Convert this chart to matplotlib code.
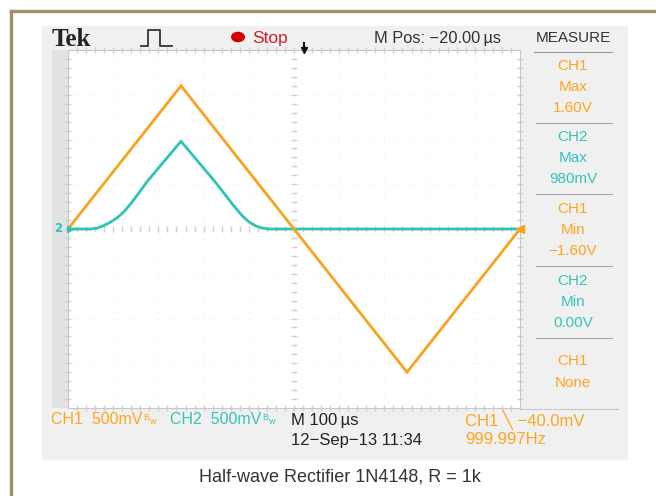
import matplotlib.pyplot as plt
from matplotlib.patches import Rectangle, Circle

# scope capture: 100 us/div, 500 mV/div on both channels
t_ch1 = [0, 250, 500, 750, 1000]          # us
v_ch1 = [0.0, 1.60, 0.0, -1.60, 0.0]      # V, triangle input

t_ch2 = [0, 50, 65, 80, 95, 110, 125, 140, 155, 175, 250,
         325, 345, 365, 385, 400, 415, 430, 445, 460, 1000]
v_ch2 = [0.0, 0.0, 0.01, 0.04, 0.08, 0.13, 0.2, 0.29, 0.39, 0.53, 0.98,
         0.53, 0.4, 0.27, 0.15, 0.08, 0.035, 0.01, 0.0, 0.0, 0.0]

measure = [("CH1", "Max", "1.60V", "orange"),
           ("CH2", "Max", "980mV", "cyan"),
           ("CH1", "Min", "\u22121.60V", "orange"),
           ("CH2", "Min", "0.00V", "cyan"),
           ("CH1", "None", "", "orange")]

ORANGE = "#F9A21E"
CYAN = "#2DC3B5"
TXT_OR = "#FFA51F"
TXT_CY = "#35C4BC"
W, H = 656, 496

fig = plt.figure(figsize=(6.56, 4.96), dpi=100)
fig.patch.set_facecolor("white")


def fx(x):
    return x / W


def fy(y):
    return 1 - y / H


def ftext(x, y, s, **kw):
    fig.text(fx(x), fy(y), s, **kw)


def frect(x0, y0, x1, y1, **kw):
    fig.patches.append(Rectangle((fx(x0), fy(y1)), fx(x1) - fx(x0), fy(y0) - fy(y1),
                                 transform=fig.transFigure, figure=fig, **kw))


# screen background and frame
frect(42, 26, 628, 460, facecolor="#F0F0F0", edgecolor="none", zorder=-2)
frect(52, 50, 68, 408, facecolor="#E2E2E2", edgecolor="none", zorder=-1)
fig.add_artist(plt.Line2D([fx(10.5), 1], [fy(11), fy(11)], color="#A38D6B", lw=2.4,
                          transform=fig.transFigure))
fig.add_artist(plt.Line2D([fx(10.5), fx(10.5)], [fy(11), 0], color="#A38D6B", lw=2.4,
                          transform=fig.transFigure))

ax = fig.add_axes([fx(68), fy(408), fx(520) - fx(68), fy(50) - fy(408)])
ax.set_zorder(2)
ax.set_facecolor("white")
ax.set_xlim(0, 1000)
ax.set_ylim(-2, 2)
for s in ax.spines.values():
    s.set_color("#C8C8C8")
    s.set_linewidth(0.8)
ax.set_xticks([])
ax.set_yticks([])

# faint division grid and center graticule with minor ticks
for xv in range(100, 1000, 100):
    ax.axvline(xv, color="#E4E4E4", lw=0.6, ls=(0, (1, 5)), zorder=0)
for yv in [-1.5, -1, -0.5, 0.5, 1, 1.5]:
    ax.axhline(yv, color="#E4E4E4", lw=0.6, ls=(0, (1, 5)), zorder=0)
minor_x = list(range(20, 1000, 20))
minor_y = [i * 0.1 for i in range(-19, 20)]
ax.plot(minor_x, [0] * len(minor_x), ls="none", marker="|", ms=5, color="#CFCFCF", zorder=1)
ax.plot([500] * len(minor_y), minor_y, ls="none", marker="_", ms=5, color="#CFCFCF", zorder=1)
ax.plot(minor_x, [2] * len(minor_x), ls="none", marker="|", ms=4, color="#CFCFCF",
        clip_on=False, zorder=1)
ax.plot(minor_x, [-2] * len(minor_x), ls="none", marker="|", ms=4, color="#CFCFCF",
        clip_on=False, zorder=1)
ax.plot([0] * len(minor_y), minor_y, ls="none", marker="_", ms=4, color="#CFCFCF",
        clip_on=False, zorder=1)
ax.plot([1000] * len(minor_y), minor_y, ls="none", marker="_", ms=4, color="#CFCFCF",
        clip_on=False, zorder=1)

ax.plot(t_ch2, v_ch2, color=CYAN, lw=2.0, solid_joinstyle="round", zorder=3)
ax.plot(t_ch1, v_ch1, color=ORANGE, lw=2.0, solid_joinstyle="miter", zorder=4)

# channel and trigger markers
ax.plot([5], [0], marker=">", ms=5, color=CYAN, clip_on=False, zorder=5)
ax.text(-22, 0, "2", color=CYAN, fontsize=8.5, fontweight="bold", ha="center", va="center")
ax.plot([1000], [0], marker="<", ms=6, color=ORANGE, clip_on=False, zorder=5)
ax.plot([522], [2.0], marker="v", ms=5, color="#111111", clip_on=False, zorder=5)
ax.plot([522, 522], [2.0, 2.08], color="#111111", lw=1.5, clip_on=False)

SANS = ["Liberation Sans", "DejaVu Sans"]

# header row
ftext(52, 40, "Tek", family=["Liberation Serif", "DejaVu Serif"], fontweight="bold",
      fontsize=18, color="#222222", va="center")
fig.add_artist(plt.Line2D([fx(x) for x in [141, 148, 148, 160, 160, 172]],
                          [fy(y) for y in [46, 46, 30, 30, 46, 46]],
                          color="#333333", lw=1.3, transform=fig.transFigure))
fig.patches.append(Circle((fx(238), fy(37)), 7 / W, transform=fig.transFigure,
                          figure=fig, facecolor="#D40000", edgecolor="none"))
ftext(252, 38, "Stop", family=SANS, fontsize=12.5, color="#D41C2C", va="center")
ftext(374, 38, "M Pos: \u221220.00\u2009\u00b5s", family=SANS, fontsize=11.8,
      color="#333333", va="center")
ftext(573, 38, "MEASURE", family=SANS, fontsize=11, color="#333333",
      va="center", ha="center")
fig.add_artist(plt.Line2D([fx(534), fx(612)], [fy(52), fy(52)], color="#9A9A9A", lw=0.8,
                          transform=fig.transFigure))

# measurement panel
seps = [123, 194, 266, 338]
centers = [87, 158, 230, 302, 372]
for (ch, kind, val, col), yc in zip(measure, centers):
    c = TXT_OR if col == "orange" else TXT_CY
    if val:
        lines = [ch, kind, val]
        offs = [-21, 0, 21]
    else:
        lines = [ch, kind]
        offs = [-11, 11]
    for s, o in zip(lines, offs):
        ftext(573, yc + o, s, family=SANS, fontsize=11, color=c, ha="center", va="center")
for y in seps:
    fig.add_artist(plt.Line2D([fx(536), fx(612)], [fy(y), fy(y)], color="#A8A8A8", lw=0.8,
                              transform=fig.transFigure))
fig.add_artist(plt.Line2D([fx(520), fx(618)], [fy(409), fy(409)], color="#C8C8C8", lw=0.8,
                          transform=fig.transFigure))

# bottom status lines
ftext(51, 420, "CH1  500mV", family=SANS, fontsize=11.5, color=TXT_OR, va="center")
ftext(143, 418, "B", family=SANS, fontsize=6.5, color=TXT_OR, va="center")
ftext(149, 422, "w", family=SANS, fontsize=6.5, color=TXT_OR, va="center")
ftext(170, 420, "CH2  500mV", family=SANS, fontsize=11.5, color=TXT_CY, va="center")
ftext(262, 418, "B", family=SANS, fontsize=6.5, color=TXT_CY, va="center")
ftext(268, 422, "w", family=SANS, fontsize=6.5, color=TXT_CY, va="center")
ftext(291, 420, "M 100\u2009\u00b5s", family=SANS, fontsize=12, color="#222222", va="center")
ftext(291, 440, "12\u2212Sep\u221213 11:34", family=SANS, fontsize=12, color="#222222",
      va="center")
ftext(465, 420, "CH1 \u2572 \u221240.0mV", family=SANS, fontsize=12, color=TXT_OR,
      va="center")
ftext(465, 440, "999.997Hz", family=SANS, fontsize=12, color=TXT_OR, va="center")

ftext(340, 477, "Half-wave Rectifier 1N4148, R = 1k", family=SANS,
      fontsize=13, color="#333333", ha="center", va="center")

fig.savefig("out.png", dpi=100)
